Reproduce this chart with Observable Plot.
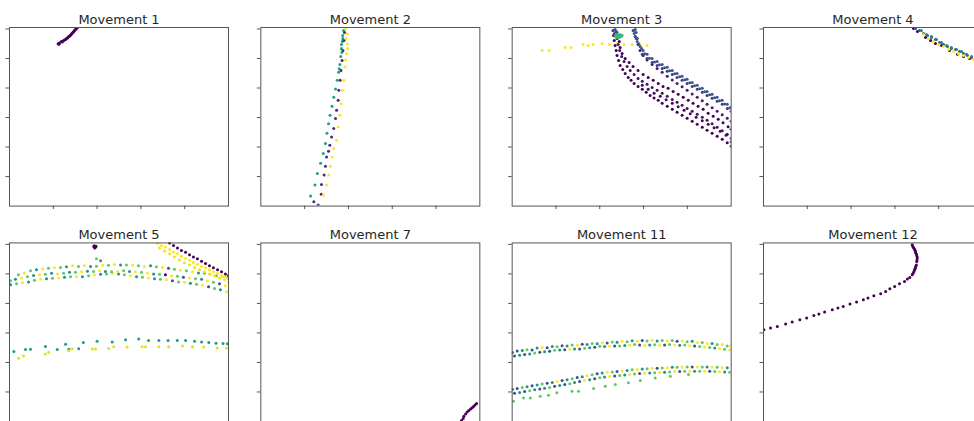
<!DOCTYPE html>
<html><head><meta charset="utf-8">
<script src="https://cdn.jsdelivr.net/npm/d3@7"></script>
<script src="https://cdn.jsdelivr.net/npm/@observablehq/plot@0.6"></script>
<style>html,body{margin:0;padding:0;background:#fff;overflow:hidden;width:974px;height:421px}</style>
</head><body><div id="chart"></div><script>
// ---- panel titles & ticks ----
const titles = ["Movement 1","Movement 2","Movement 3","Movement 4","Movement 5","Movement 7","Movement 11","Movement 12"];
const xTicks = [200,400,600,800];
const yTicks = [200,400,600,800,1000,1200];

// ---- Movement 1 ----
const m1Purple = [[222,1100],[228,1105],[237,1115],[247,1122],[256,1129],[265,1139],[272,1149],[279,1159],[285,1170],[292,1180],[297,1190],[304,1200],[310,1210],[315,1224],[226,1096],[241,1112],[251,1126],[260,1135],[268,1146],[276,1154],[282,1165],[289,1176],[295,1186],[301,1196],[307,1206]];

// ---- Movement 2 ----
const m2Teal = [[227,68],[247,142],[258,220],[273,291],[285,356],[295,424],[302,493],[309,558],[316,615],[325,676],[333,737],[341,794],[349,852],[355,906],[361,960],[365,1014],[368,1068],[368,1095],[372,1115],[374,1135],[374,1156],[378,1190],[370,1040],[358,930]];
const m2Dark = [[242,29],[262,7],[276,81],[277,147],[289,210],[295,270],[300,333],[309,372],[315,412],[323,468],[333,525],[341,593],[346,649],[353,717],[356,784],[362,852],[366,919],[371,987],[375,1055],[380,1122],[382,1176]];
const m2Yellow = [[285,74],[300,142],[310,210],[318,270],[326,333],[333,390],[346,446],[353,536],[361,615],[367,694],[372,784],[379,852],[384,942],[391,1032],[395,1100],[395,1167],[387,1201],[389,1135],[396,1068],[387,990]];

// ---- Movement 3 ----
const m3Yellow = [[137,1055],[169,1055],[242,1075],[269,1075],[324,1095],[347,1088],[370,1095],[411,1102],[443,1095],[479,1102],[511,1095],[548,1095],[584,1095],[616,1088]];
const m3Green = [[475,1163],[484,1156],[493,1163],[489,1142],[498,1149],[479,1142],[502,1156],[470,1149]];
const m3Blue = [[461,1190],[470,1197],[466,1169],[475,1183],[470,1156],[479,1176],[552,1190],[562,1197],[557,1169],[566,1176],[562,1149]];
const m3Band1 = [[555,1190],[562,1149],[571,1115],[584,1082],[598,1055],[616,1028],[639,1000],[662,980],[685,960],[708,940],[731,919],[753,899],[776,879],[799,859],[822,838],[845,818],[868,798],[890,777],[913,757],[936,737],[959,717],[982,690],[1000,669]];
const m3Band2 = [[594,1028],[616,1000],[639,973],[662,953],[685,933],[708,913],[731,892],[753,872],[776,852],[799,831],[822,811],[845,791],[868,771],[890,750],[913,730],[936,710],[959,690],[982,662],[1000,642]];
const m3Band3 = [[566,1135],[578,1100],[591,1068],[605,1032],[627,1001],[650,977],[673,957],[696,937],[719,917],[742,896],[765,876],[788,856],[811,835],[833,815],[856,795],[879,775],[902,754],[925,734],[947,714],[970,691],[993,664]];
const m3LineB = [[571,1136],[575,1095],[584,1055],[598,1021],[616,990],[639,960],[662,933],[685,906],[708,879],[731,855],[753,831],[776,808],[799,784],[822,760],[845,737],[868,713],[890,690],[913,666],[936,642],[959,619],[982,595],[1000,575]];
const m3LineB2 = [[484,1156],[489,1115],[493,1075],[502,1034],[516,1000],[534,973],[552,946],[575,919],[598,892],[621,872],[644,852],[667,831],[689,811],[712,798],[735,777],[758,757],[781,737],[804,717],[826,696],[849,676],[872,656],[895,629],[918,608],[941,588],[963,564],[986,537],[1000,521]];
const m3LineC = [[461,1190],[463,1156],[466,1122],[470,1088],[475,1055],[479,1021],[486,987],[493,953],[505,926],[516,899],[530,872],[543,852],[557,831],[575,811],[594,791],[612,771],[630,750],[648,733],[667,717],[685,696],[708,676],[731,656],[753,635],[776,615],[799,595],[822,575],[845,554],[868,534],[890,514],[913,493],[936,473],[959,453],[982,429],[1000,406]];
const m3LineD = [[475,1176],[479,1136],[484,1095],[491,1055],[500,1014],[511,980],[525,946],[539,919],[557,892],[575,865],[594,845],[616,825],[639,804],[662,784],[685,764],[708,744],[731,723],[753,703],[776,683],[799,662],[822,642],[845,622],[868,602],[890,581],[913,558],[936,534],[959,510],[982,487],[1000,460]];
const m3LineE = [[594,818],[621,791],[648,764],[676,744],[703,720],[731,696],[758,673],[785,649],[813,625],[840,602],[868,578],[895,554],[922,531],[950,507],[977,480],[1000,436]];

// ---- Movement 4 ----
const m4Blue = [[694,1203],[712,1190],[731,1169],[749,1156],[767,1142],[785,1129],[804,1109],[822,1095],[840,1082],[858,1068],[877,1061],[895,1048],[913,1034],[931,1021],[950,1007],[968,994],[986,980],[1000,973]];
const m4Teal = [[721,1190],[744,1163],[767,1149],[790,1129],[813,1109],[836,1088],[858,1075],[881,1061],[904,1048],[927,1028],[950,1014],[973,1000],[995,987]];
const m4Yellow = [[731,1163],[753,1136],[776,1115],[799,1095],[822,1082],[845,1061],[868,1048],[890,1034],[913,1021],[936,1007],[959,994],[982,980],[1000,967]];
const m4Purple = [[685,1203],[703,1183],[740,1142],[763,1122],[785,1102],[813,1088],[849,1055],[886,1028],[913,1014],[941,1000],[968,987],[995,973]];

// ---- Movement 5 ----
const m5Blob = [[385,1185],[392,1181],[389,1176],[395,1188],[387,1190]];
const m5ArcTop = [[41,994,3],[68,1007,4],[96,1021,3],[123,1028,2],[151,1034,4],[178,1038,3],[205,1041,4],[233,1044,3],[260,1048,2],[288,1055,4],[315,1051,3],[342,1055,4],[370,1050,2],[397,1052,3],[425,1058,4],[452,1058,3],[479,1064,4],[507,1061,2],[534,1061,3],[562,1058,4],[589,1055,3],[616,1050,4],[644,1055,2],[671,1048,3],[699,1044,4],[726,1038,1],[753,1031,3],[781,1024,4],[808,1021,3],[836,1014,4],[863,1007,2],[890,1004,3],[918,997,4],[945,987,3],[973,980,4],[998,973,1],[397,1102,3],[416,1090,2]];
const m5ArcMid = [[5,953,3],[27,963,2],[55,973,4],[82,980,3],[110,990,2],[137,994,4],[164,997,3],[192,1004,2],[219,1000,4],[247,1004,3],[274,1011,2],[301,1011,3],[329,1014,4],[356,1018,2],[384,1017,3],[411,1021,4],[438,1017,2],[466,1014,3],[493,1017,4],[521,1021,3],[548,1017,2],[575,1014,4],[603,1011,3],[630,1007,4],[658,1000,2],[685,997,3],[712,994,0],[740,987,4],[767,984,3],[794,977,1],[822,973,4],[849,967,3],[877,963,2],[904,953,4],[931,943,3],[959,933,1],[986,919,4]];
const m5ArcBot = [[5,926,2],[32,933,3],[59,940,4],[87,946,2],[114,957,3],[142,963,4],[169,967,2],[196,970,3],[224,973,4],[251,977,2],[279,980,3],[306,980,4],[333,980,2],[361,987,3],[388,994,4],[416,997,2],[443,1000,3],[470,1004,4],[498,1000,2],[525,994,3],[552,987,4],[580,980,2],[607,977,3],[635,973,4],[662,967,2],[689,963,3],[717,960,4],[744,953,1],[772,946,3],[799,943,4],[826,936,2],[854,930,3],[881,923,4],[909,913,1],[936,902,3],[963,892,2],[991,879,4]];
const m5DescYellow = [[676,1207],[694,1193],[712,1183],[731,1166],[749,1149],[767,1136],[785,1119],[804,1105],[822,1092],[840,1078],[858,1065],[877,1051],[895,1041],[913,1028],[931,1014],[950,1004],[968,990],[986,980],[1000,970]];
const m5DescYellow2 = [[685,1176],[708,1156],[731,1136],[753,1115],[776,1095],[799,1075],[822,1061],[845,1044],[868,1028],[890,1014],[913,1000],[936,987],[959,973],[982,960],[1000,946]];
const m5DescPurple = [[731,1210],[749,1193],[767,1176],[785,1159],[804,1146],[822,1129],[840,1115],[858,1102],[877,1085],[895,1071],[913,1055],[931,1041],[950,1028],[968,1014],[986,1000],[1000,990]];
const m5LowTeal = [[20,475],[73,487],[96,490],[164,509],[218,487],[256,524],[271,490],[316,493],[337,536],[400,543],[469,539],[530,554],[590,559],[635,549],[682,549],[724,549],[766,549],[804,549],[845,543],[877,539],[910,536],[943,531],[975,529],[995,527]];
const m5LowYellow = [[42,428],[64,444],[164,458],[179,470],[271,480],[286,493],[378,492],[393,492],[453,495],[476,507],[537,504],[606,507],[621,507],[682,507],[727,507],[790,512],[836,507],[887,504],[948,498],[992,498]];

// ---- Movement 7 ----
const m7Purple = [[916,7],[924,20],[927,36],[935,51],[942,64],[950,74],[958,85],[965,93],[971,101],[978,112],[985,122]];

// ---- Movement 11 ----
const m11UpperA = [[2,467,2],[23,477,1],[46,481,2],[68,486,3],[91,485,1],[114,498,2],[137,501,4],[160,500,1],[183,509,2],[205,507,3],[228,514,1],[251,512,2],[274,519,3],[297,517,4],[320,524,1],[342,522,2],[365,528,3],[388,527,2],[411,534,4],[434,532,1],[457,539,3],[479,537,2],[502,543,4],[525,541,3],[548,547,2],[571,543,4],[594,549,1],[616,545,3],[639,550,4],[662,546,2],[685,549,3],[708,545,4],[731,548,3],[753,543,1],[776,546,4],[799,541,3],[822,543,2],[845,536,4],[868,536,3],[890,529,4],[913,529,2],[936,522,3],[959,521,4],[982,512,3],[998,513,4]];
const m11UpperB = [[11,444,1],[34,449,2],[57,454,1],[80,458,2],[103,464,3],[126,470,1],[148,472,2],[171,476,1],[194,483,3],[217,484,2],[240,486,1],[263,489,4],[285,491,2],[308,491,1],[331,497,3],[354,500,2],[377,503,1],[400,510,3],[422,509,2],[445,510,4],[468,512,1],[491,511,3],[514,515,2],[537,516,4],[559,522,3],[582,518,1],[605,515,4],[628,519,2],[651,520,3],[673,516,4],[696,519,1],[719,522,3],[742,518,4],[765,517,2],[788,518,3],[811,514,4],[833,512,1],[856,508,3],[879,505,4],[902,501,3],[925,498,2],[947,494,4],[970,489,3],[993,485,4]];
const m11LowerA = [[2,218,2],[23,224,1],[46,230,3],[68,236,2],[91,242,1],[114,248,2],[137,254,3],[160,259,1],[183,264,2],[205,271,4],[228,277,1],[251,283,2],[274,289,3],[297,298,1],[320,304,2],[342,310,4],[365,317,3],[388,323,1],[411,329,2],[434,333,4],[457,336,3],[479,339,1],[502,343,4],[525,346,2],[548,350,3],[571,353,4],[594,356,2],[616,358,3],[639,360,4],[662,361,1],[685,363,3],[708,365,4],[731,367,2],[753,368,3],[776,370,4],[799,370,3],[822,370,1],[845,370,4],[868,370,3],[890,370,2],[913,369,4],[936,367,3],[959,365,4],[982,364,2]];
const m11LowerB = [[11,191,1],[34,197,2],[57,203,1],[80,209,3],[103,215,2],[126,221,1],[148,226,2],[171,231,3],[194,238,1],[217,244,2],[240,250,1],[263,256,3],[285,264,2],[308,271,1],[331,277,4],[354,283,2],[377,290,1],[400,296,3],[422,301,2],[445,305,4],[468,308,1],[491,311,3],[514,315,2],[537,318,4],[559,322,3],[582,325,1],[605,327,4],[628,329,2],[651,331,3],[673,332,4],[696,334,2],[719,336,3],[742,338,4],[765,339,1],[788,340,3],[811,340,4],[833,340,2],[856,340,3],[879,340,4],[902,340,1],[925,339,3],[947,337,4],[970,335,2],[993,334,3]];
const m11Sparse = [[6,137],[52,160],[83,160],[128,171],[166,178],[204,194],[273,205],[303,205],[372,223],[425,239],[471,250],[531,262],[585,277],[653,295],[722,306],[805,318]];

// ---- Movement 12 ----
const m12Purple = [[2,622],[32,633],[63,644],[101,660],[131,674],[166,690],[197,701],[230,719],[253,728],[279,742],[314,757],[340,769],[364,779],[395,796],[425,809],[456,825],[477,836],[504,852],[535,865],[558,881],[577,899],[599,915],[621,933],[644,948],[657,965],[668,975],[679,994],[687,1016],[693,1039],[698,1061],[700,1084],[702,1107],[699,1129],[694,1151],[689,1169],[682,1185],[679,1197],[683,1005],[690,1028],[695,1050],[701,1095],[701,1118],[696,1140],[692,1160],[685,1177]];

// ---- series table: panel index, default colour value (0..4 on viridis) ----
const series = [
  [0, 0, m1Purple],
  [1, 2.3, m2Teal], [1, 0.5, m2Dark], [1, 4, m2Yellow],
  [2, 4, m3Yellow], [2, 0, m3LineC], [2, 0.2, m3LineD], [2, 0.1, m3LineE], [2, 0, m3LineB2],
  [2, 0.3, m3LineB], [2, 0.7, m3Band2], [2, 1, m3Band3], [2, 1.1, m3Band1], [2, 1, m3Blue], [2, 2.7, m3Green],
  [3, 0, m4Purple], [3, 1.1, m4Blue], [3, 1.8, m4Teal], [3, 4, m4Yellow],
  [4, 2.2, m5LowTeal], [4, 3.8, m5LowYellow], [4, 3, m5ArcBot], [4, 3, m5ArcMid], [4, 3, m5ArcTop],
  [4, 3.9, m5DescYellow2], [4, 4, m5DescYellow], [4, 0, m5DescPurple], [4, 0, m5Blob],
  [5, 0, m7Purple],
  [6, 3, m11Sparse], [6, 2, m11LowerB], [6, 2, m11LowerA], [6, 2, m11UpperB], [6, 2, m11UpperA],
  [7, 0, m12Purple]
];

const points = [];
for (const [p, c, pts] of series) {
  for (const d of pts) points.push({col: p % 4, row: Math.floor(p / 4), x: d[0], y: d[1], c: d.length > 2 ? d[2] : c});
}
const panelInfo = titles.map((t, i) => ({col: i % 4, row: Math.floor(i / 4), title: t}));

const chart = Plot.plot({
  width: 974,
  height: 421,
  marginLeft: 9,
  marginRight: -8,
  marginTop: 27,
  marginBottom: 0,
  style: {fontFamily: "DejaVu Sans", background: "white"},
  x: {domain: [0, 1000], axis: null},
  y: {domain: [0, 1210], axis: null},
  fx: {domain: [0, 1, 2, 3], paddingInner: 0.1286, paddingOuter: 0, round: false, axis: null},
  fy: {domain: [0, 1], paddingInner: 0.171, paddingOuter: 0, round: false, axis: null},
  color: {type: "linear", scheme: "viridis", domain: [0, 4]},
  marks: [
    Plot.dot(points, {fx: "col", fy: "row", x: "x", y: "y", fill: "c", r: 1.5, clip: true}),
    Plot.frame({stroke: "#555", strokeWidth: 1}),
    Plot.axisX({ticks: xTicks, tickSize: 3.5, stroke: "#555", fill: "none", facetAnchor: null, label: null}),
    Plot.axisY({ticks: yTicks, tickSize: 3.5, stroke: "#555", fill: "none", facetAnchor: null, label: null}),
    Plot.text(panelInfo, {fx: "col", fy: "row", text: "title", frameAnchor: "top", lineAnchor: "bottom", dy: -4, fontSize: 13, fill: "#262626"})
  ]
});
document.getElementById("chart").append(chart);
</script></body></html>
